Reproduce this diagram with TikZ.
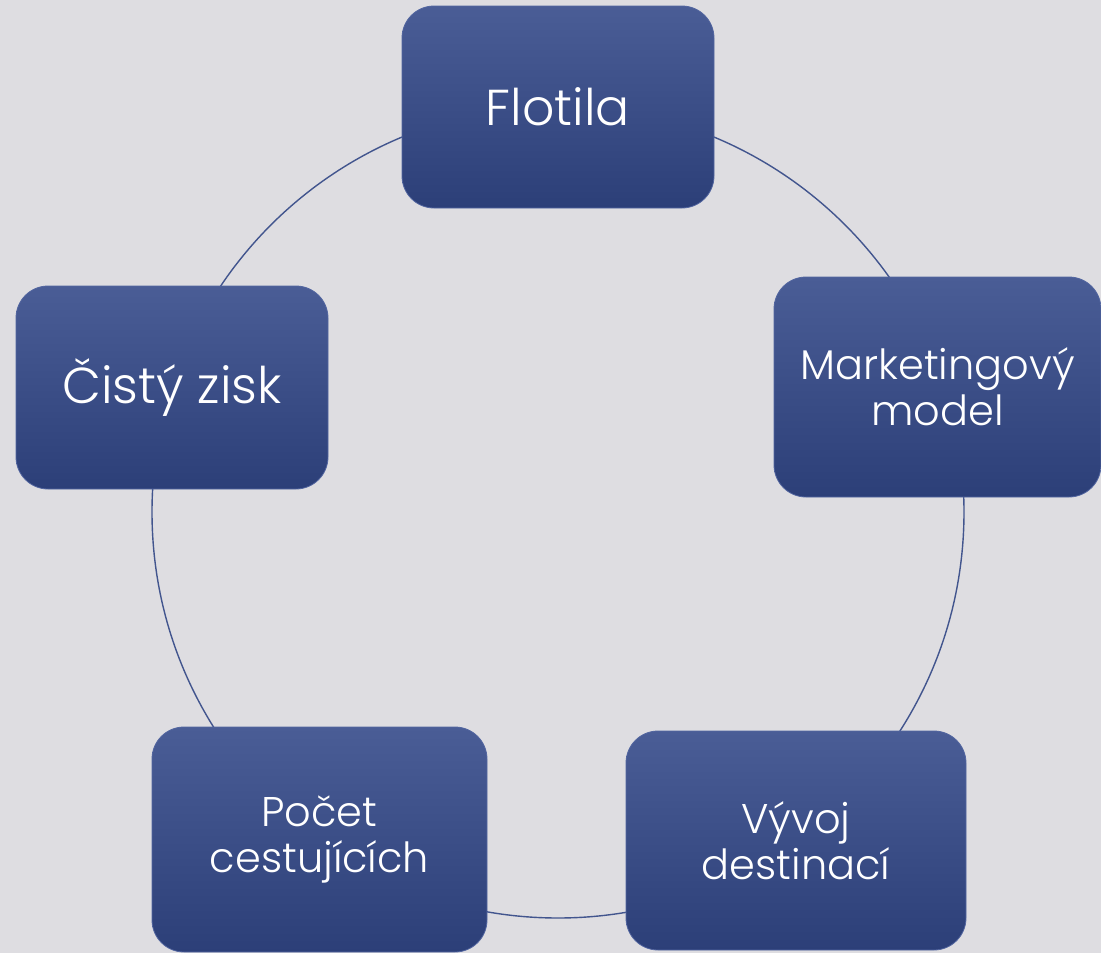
\documentclass[tikz,border=0pt]{standalone}
\usepackage{fontspec}
\setmainfont{Poppins}[UprightFont=* Light]
\definecolor{bg}{HTML}{DEDDE1}
\definecolor{boxtop}{HTML}{4A5D96}
\definecolor{boxbot}{HTML}{2C3F78}
\definecolor{boxline}{HTML}{5366A0}
\definecolor{ring}{HTML}{42558E}
\begin{document}
\begin{tikzpicture}[x=1pt,y=-1pt,
  card/.style={rectangle, rounded corners=32pt, top color=boxtop, bottom color=boxbot,
    draw=boxline, line width=0.8pt, text=white, align=center, inner sep=0pt},
  bigtext/.style={font=\fontsize{50.5}{56}\selectfont},
  smalltext/.style={font=\fontsize{41.5}{46}\selectfont}]
\fill[bg] (0,0) rectangle (1101,953);
\useasboundingbox (0,0) rectangle (1101,953);
\coordinate (ctr) at (558,512);
\draw[ring, line width=1.4pt] (ctr) circle[radius=406];
\node[card, bigtext, minimum width=312pt, minimum height=202pt] (flot) at (558,107) {Flotila};
\node[card, smalltext, minimum width=327pt, minimum height=220pt] (mark) at (937.5,387) {Marketingový\\model};
\node[card, smalltext, minimum width=340pt, minimum height=219pt] (vyvoj) at (796,840.5) {Vývoj\\destinací};
\node[card, smalltext, minimum width=335pt, minimum height=225pt] (pocet) at (319.5,839.5) {Počet\\cestujících};
\node[card, bigtext, minimum width=312pt, minimum height=203pt] (zisk) at (172,387.5) {Čistý zisk};
\end{tikzpicture}
\end{document}
